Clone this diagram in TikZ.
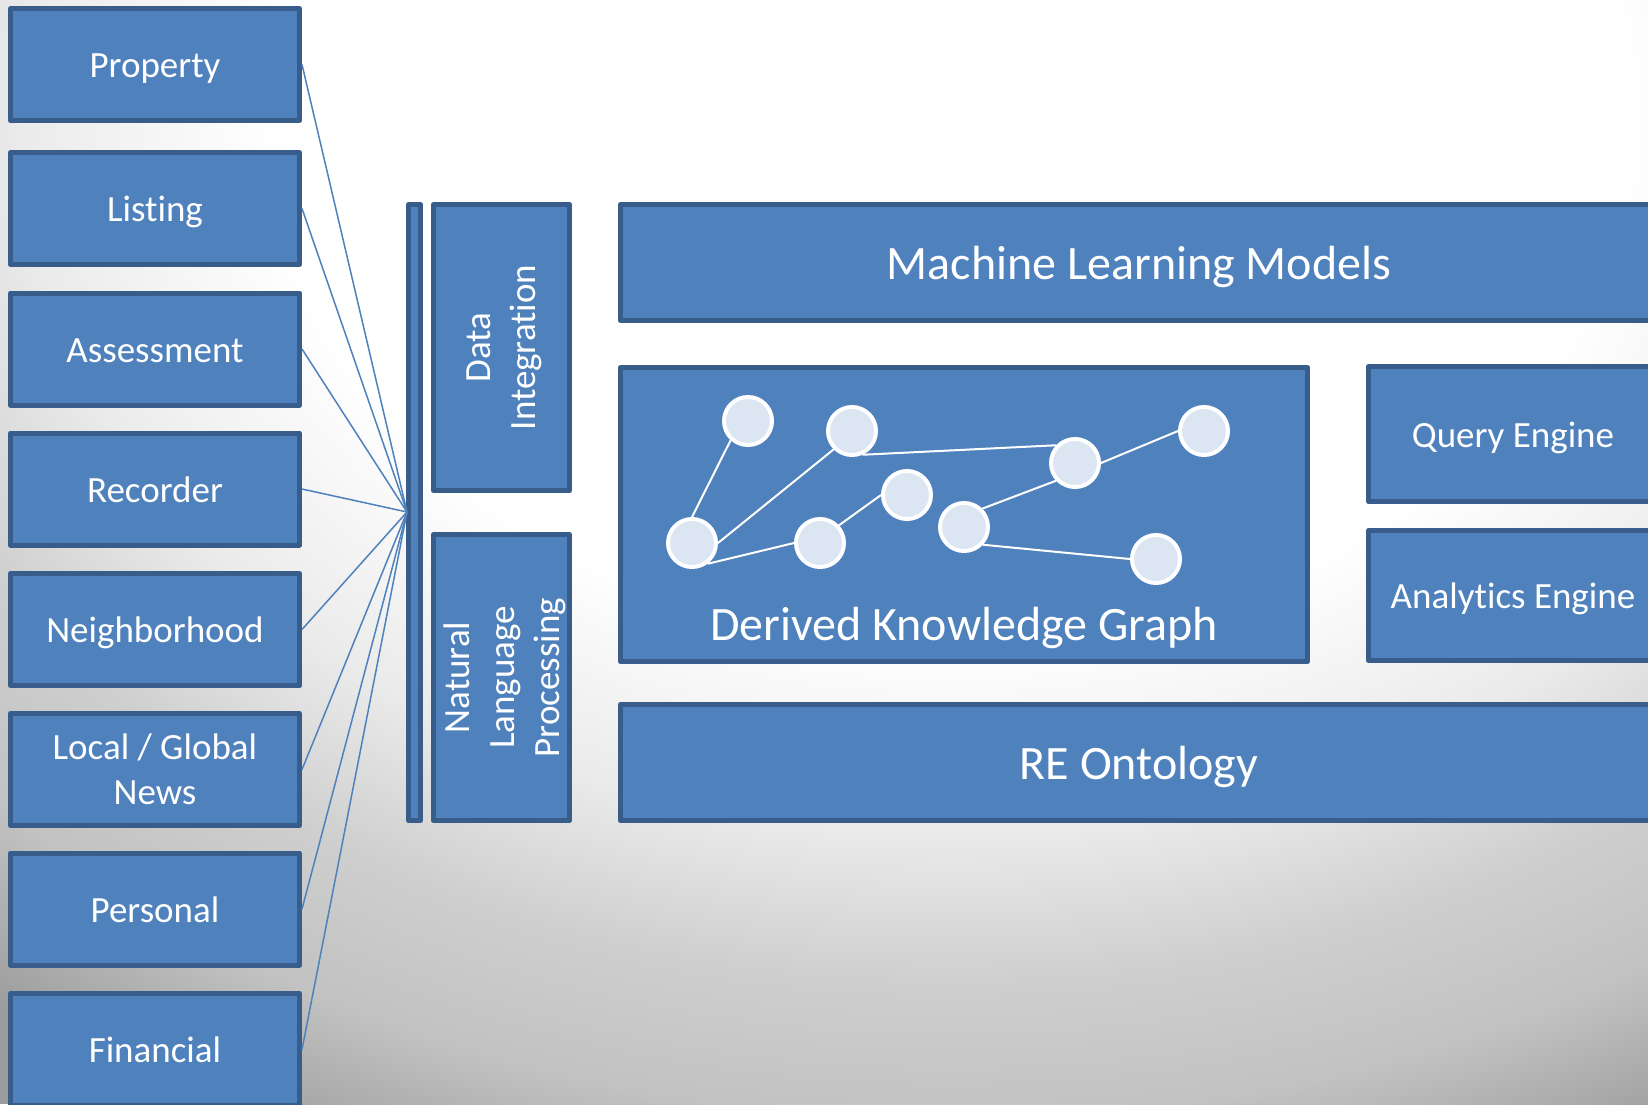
\documentclass[tikz,border=0pt]{standalone}
\usepackage{fontspec}
\setmainfont{Carlito}[Ligatures={NoCommon}]
\definecolor{boxfill}{HTML}{4F81BD}
\definecolor{boxborder}{HTML}{385D8A}
\definecolor{gnode}{HTML}{DCE6F2}
\definecolor{bga}{gray}{0.92}
\definecolor{bgb}{gray}{0.81}
\definecolor{bgc}{gray}{0.76}
\definecolor{bgd}{gray}{0.61}
\definecolor{bge}{gray}{0.60}
\pgfdeclareradialshading{bgshade}{\pgfpointorigin}{color(0bp)=(white); color(11.25bp)=(white); color(15.5bp)=(bga); color(18.75bp)=(bgb); color(21.75bp)=(bgc); color(25bp)=(bgd); color(50bp)=(bge)}
\tikzset{
  box/.style={draw=boxborder, fill=boxfill, line width=2.5pt, line join=round, text=white, align=center, inner sep=0pt, font=\fontsize{18.5}{22.5}\selectfont},
  oneline/.style={text height=13pt, text depth=0pt},
  bigline/.style={text height=16.8pt, text depth=0pt},
  srcbox/.style={box, minimum width=144.5pt, minimum height=56pt},
  bigtext/.style={font=\fontsize{24}{29}\selectfont},
  feed/.style={draw=boxfill, line width=0.75pt},
  gcirc/.style={circle, draw=white, fill=gnode, line width=2pt, minimum size=24pt, inner sep=0pt},
  gedge/.style={draw=white, line width=1pt}
}
\begin{document}
\begin{tikzpicture}[x=0.5pt, y=-0.5pt]
\useasboundingbox (0,0) rectangle (1648,1104);
\begin{scope}
  \clip (0,0) rectangle (1648,1104);
  \fill[bgd] (0,0) rectangle (1648,1104);
  \shade[shading=bgshade] (950,120) ellipse [x radius=750pt, y radius=575pt];
\end{scope}
% source boxes
\node[srcbox, oneline] (prop) at (155,64.5) {Property};
\node[srcbox, oneline] (list) at (155,208.5) {Listing};
\node[srcbox, oneline] (assess) at (155,349) {Assessment};
\node[srcbox, oneline] (rec) at (155,489) {Recorder};
\node[srcbox, oneline] (neigh) at (155,629.5) {Neighborhood};
\node[srcbox] (news) at (155,769.5) {Local / Global\\News};
\node[srcbox, oneline] (pers) at (155,909) {Personal};
\node[srcbox, oneline] (fin) at (155,1049.5) {Financial};
% bar
\node[box, minimum width=6pt, minimum height=308pt] (bar) at (414.5,512.5) {};
\coordinate (hub) at (407,512);
\foreach \n in {prop,list,assess,rec,neigh,news,pers,fin}
  \draw[feed] (\n.east) -- (hub);
% processing boxes
\node[box, rotate=90, text depth=0pt, minimum width=143pt, minimum height=68pt] (di) at (501.5,347.5) {Data\\Integration};
\node[box, rotate=90, text depth=0pt, minimum width=143pt, minimum height=68pt] (nlp) at (501.5,677.5) {Natural\\Language\\Processing};
% right boxes
\node[box, bigtext, bigline, minimum width=518.5pt, minimum height=58pt] (ml) at (1139,262.5) {Machine Learning Models};
\node[box, minimum width=343.5pt, minimum height=147pt] (dkg) at (964,514.5) {};
\node[text=white, bigtext, bigline, inner sep=0pt] (dkglabel) at (964,624) {Derived Knowledge Graph};
\node[box, oneline, minimum width=144.5pt, minimum height=67.5pt] (query) at (1513,434) {Query Engine};
\node[box, oneline, minimum width=144.5pt, minimum height=65pt] (analytics) at (1513,595.5) {Analytics Engine};
\node[box, bigtext, bigline, minimum width=518.5pt, minimum height=58pt] (onto) at (1139,762.5) {RE Ontology};
% graph
\node[gcirc] (ga) at (748,421) {};
\node[gcirc] (gb) at (852,431) {};
\node[gcirc] (gc) at (692,543) {};
\node[gcirc] (gd) at (820,543) {};
\node[gcirc] (ge) at (907,495) {};
\node[gcirc] (gf) at (1075,463) {};
\node[gcirc] (gg) at (1204,431) {};
\node[gcirc] (gh) at (964,527) {};
\node[gcirc] (gi) at (1156,559) {};
\draw[gedge] (ga.-132) -- (gc.90);
\draw[gedge] (gb.-135) -- (gc.0);
\draw[gedge] (gc.-53) -- (gd.180);
\draw[gedge] (gd.43) -- (ge.180);
\draw[gedge] (gb.-66) -- (gf.137);
\draw[gedge] (gf.0) -- (gg.180);
\draw[gedge] (gf.-137) -- (gh.45);
\draw[gedge] (gh.-43) -- (gi.180);
\end{tikzpicture}
\end{document}
